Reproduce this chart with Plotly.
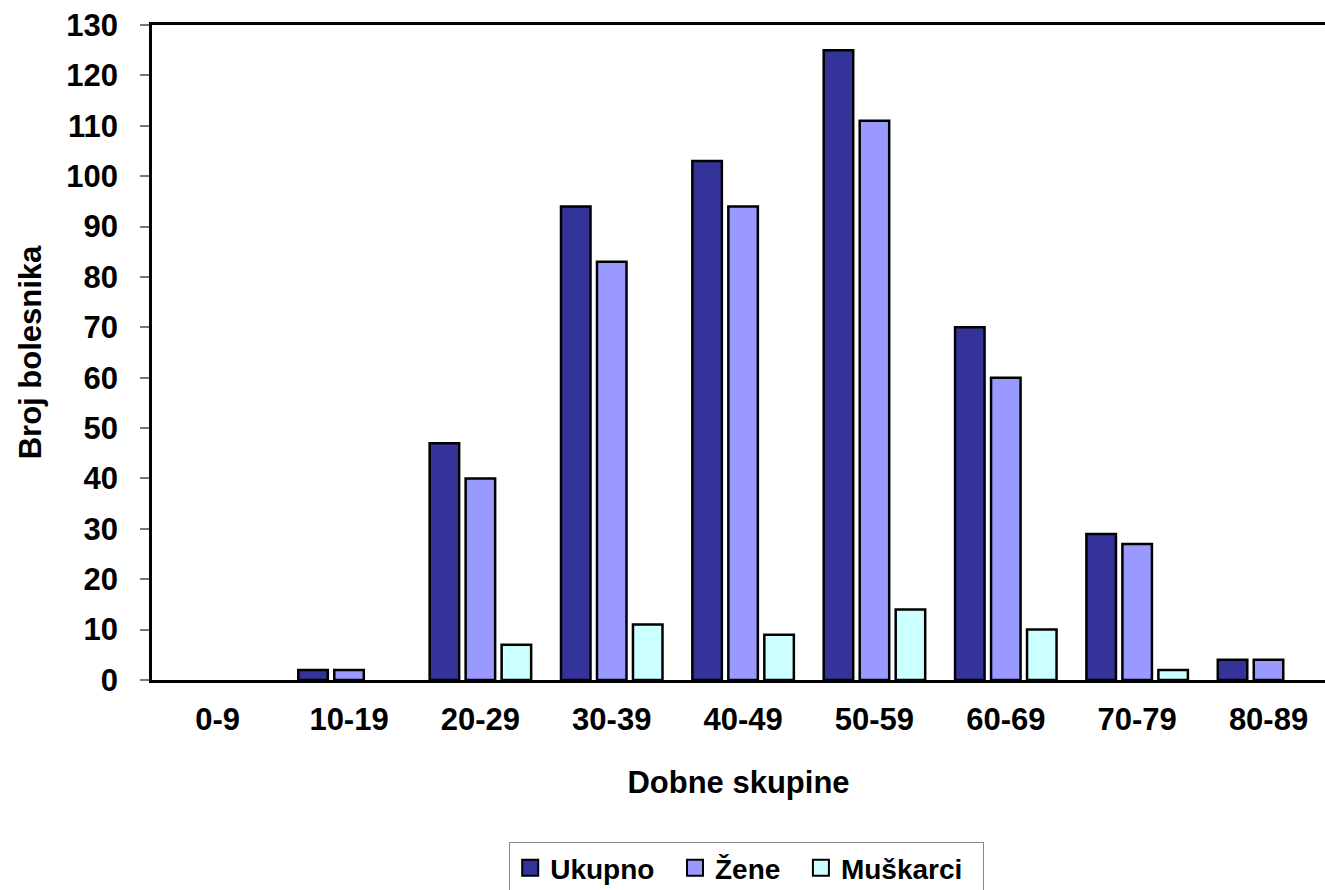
import plotly.graph_objects as go

# Age groups and patient counts
age_groups = ["0-9", "10-19", "20-29", "30-39", "40-49", "50-59", "60-69", "70-79", "80-89"]
ukupno = [0, 2, 47, 94, 103, 125, 70, 29, 4]
zene = [0, 2, 40, 83, 94, 111, 60, 27, 4]
muskarci = [0, 0, 7, 11, 9, 14, 10, 2, 0]
y_ticks = list(range(0, 131, 10))

series = [
    ("Ukupno", ukupno, "#333399"),
    ("Žene", zene, "#9999FF"),
    ("Muškarci", muskarci, "#CCFFFF"),
]

FONT = "Liberation Sans, Arial, sans-serif"

fig = go.Figure()
for name, vals, color in series:
    # empty groups are left blank rather than drawn as flat outlines
    fig.add_trace(go.Bar(
        x=age_groups, y=[v if v else None for v in vals], name=name,
        marker=dict(color=color, line=dict(color="black", width=2.5)),
        showlegend=False,
    ))
for name, vals, color in series:
    # legend keys with larger square swatches; trailing spaces widen the item spacing
    fig.add_trace(go.Scatter(
        x=[None], y=[None], mode="markers", name=f"<b>{name}</b>&nbsp;&nbsp;",
        marker=dict(symbol="square", size=16, color=color,
                    line=dict(color="black", width=2)),
    ))

fig.update_layout(
    width=1325, height=890,
    margin=dict(l=152, r=0, t=25, b=210, autoexpand=False),
    paper_bgcolor="white", plot_bgcolor="white",
    barmode="group", bargap=0.178, bargroupgap=0.18,
    font=dict(family=FONT, size=31, color="black"),
    showlegend=True,
    legend=dict(
        orientation="h", x=0.507, xanchor="center", y=-0.2475, yanchor="top",
        bordercolor="#888888", borderwidth=1,
        font=dict(family=FONT, size=28, color="black"),
        itemsizing="trace",
    ),
)

fig.update_xaxes(
    range=[-0.5, 8.43],
    showline=True, linecolor="black", linewidth=2.5, mirror=True,
    showgrid=False, ticks="", ticklabelstandoff=10,
    tickvals=age_groups, ticktext=[f"<b>{g}</b>" for g in age_groups],
    tickfont=dict(family=FONT, size=31, color="black"),
    title=dict(text="<b>Dobne skupine</b>", font=dict(family=FONT, size=31), standoff=36),
)
fig.update_yaxes(
    range=[0, 130],
    showline=True, linecolor="black", linewidth=2.5, mirror=False,
    showgrid=False, zeroline=False,
    ticks="outside", ticklen=9, tickwidth=1.5, tickcolor="#777777",
    ticklabelstandoff=16,
    tickvals=y_ticks, ticktext=[f"<b>{v}</b>" for v in y_ticks],
    tickfont=dict(family=FONT, size=31, color="black"),
    title=dict(text="<b>Broj bolesnika</b>", font=dict(family=FONT, size=31), standoff=16),
)

fig.write_html("out.html")
